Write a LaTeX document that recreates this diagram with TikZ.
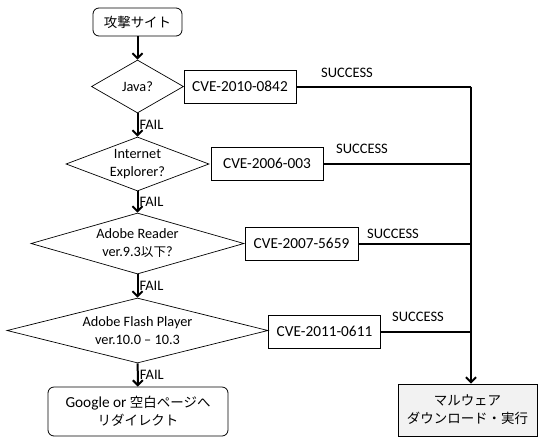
\documentclass[tikz,border=0pt]{standalone}
\usepackage{fontspec}
\setmainfont{Carlito}
\newfontfamily\jp{Noto Sans CJK JP}[Scale=0.88]
\usetikzlibrary{shapes.geometric,arrows.meta}
\definecolor{malgray}{HTML}{F2F2F2}
\tikzset{
  box/.style={draw,line width=0.8pt,minimum width=112pt,minimum height=33pt,inner sep=0pt,align=center,font=\fontsize{15.3}{18}\selectfont},
  rbox/.style={box,rounded corners=6pt},
  cond/.style={draw,diamond,line width=0.7pt,inner sep=0pt},
  condtext/.style={align=center,font=\fontsize{14.3}{18}\selectfont},
  flow/.style={line width=2pt,-{Straight Barb[length=5pt,width=10pt]}},
  link/.style={line width=2pt},
  lbl/.style={inner sep=1pt}
}
\begin{document}
\begin{tikzpicture}
      [x=1pt,y=-1pt,font=\fontsize{14.5}{18}\selectfont]
      \useasboundingbox (0,0) rectangle (538,437);
      \node[rbox,minimum width=89pt,minimum height=28pt] (S) at (137.5,22) {{\jp 攻撃サイト}};
      \node[cond,minimum width=92pt,minimum height=53pt] (D1) at (137.5,86.5) {};
      \node[condtext] (D1t) at (D1) {Java?};
      \node[cond,minimum width=143pt,minimum height=54pt] (D2) at (137.5,164) {};
      \node[condtext] (D2t) at (D2) {Internet\\Explorer?};
      \node[cond,minimum width=213pt,minimum height=61pt] (D3) at (137.5,243.5) {};
      \node[condtext] (D3t) at (D3) {Adobe Reader\\ver.9.3{\jp 以下}?};
      \node[cond,minimum width=261pt,minimum height=65pt] (D4) at (137.5,330.5) {};
      \node[condtext] (D4t) at (D4) {Adobe Flash Player\\ver.10.0 -- 10.3};
      \node[rbox,minimum width=180pt,minimum height=49pt] (G) at (138,411.5) {Google or {\jp 空白ページへ}\\{\jp リダイレクト}};
      \node[box] (C1) at (240,86.5) {CVE-2010-0842};
      \node[box] (C2) at (267,163.5) {CVE-2006-003};
      \node[box,minimum width=113pt] (C3) at (301.5,243.5) {CVE-2007-5659};
      \node[box] (C4) at (324.5,331.5) {CVE-2011-0611};
      \node[box,fill=malgray,minimum width=139pt,minimum height=52pt] (M) at (467.5,410) {{\jp マルウェア}\\{\jp ダウンロード・実行}};
      \coordinate (J) at (471,86.5);
      \draw[flow] (S) -- (D1);
      \draw[flow] (D1) -- (D2) node[midway,right,lbl] {FAIL};
      \draw[flow] (D2) -- (D3) node[midway,right,lbl] {FAIL};
      \draw[flow] (D3) -- (D4) node[midway,right,lbl] {FAIL};
      \draw[flow] (D4) -- (G) node[midway,right,lbl] {FAIL};
      \draw[link] (C1.east) -- (J);
      \draw[link] (C2.east) -- (C2.east -| J);
      \draw[link] (C3.east) -- (C3.east -| J);
      \draw[link] (C4.east) -- (C4.east -| J);
      \draw[flow] (J) -- (J |- M.north);
      \node (s1) at (347,73) {SUCCESS};
      \node (s2) at (362,149) {SUCCESS};
      \node (s3) at (393,234) {SUCCESS};
      \node (s4) at (418,317) {SUCCESS};
    \end{tikzpicture}
\end{document}
